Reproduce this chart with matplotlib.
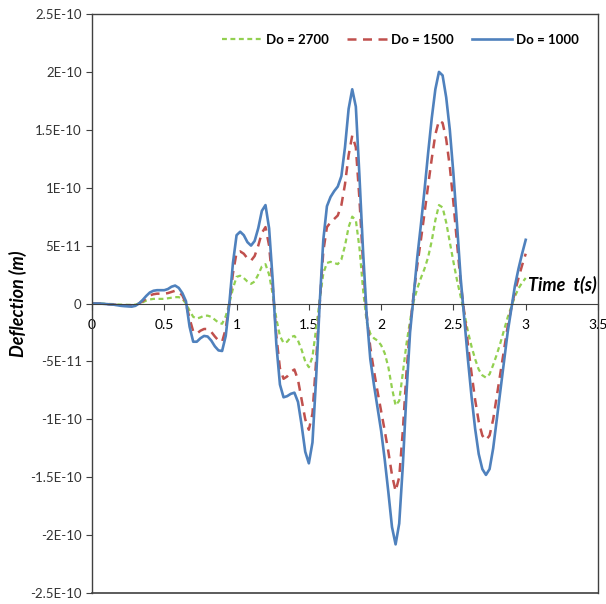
import numpy as np
import matplotlib
matplotlib.use("Agg")
import matplotlib.pyplot as plt

# time axis, sampled every 0.025 s
t = np.round(np.arange(0, 3.0001, 0.025), 3)

# deflection values in units of 1e-11 m
# (four values per 0.1 s)
do_2700 = [0, 0, 0, -0.01,
           -0.03, -0.04, -0.05, -0.08,
           -0.1, -0.11, -0.12, -0.12,
           -0.1, 0.0, 0.1, 0.25,
           0.35, 0.4, 0.4, 0.4,
           0.4, 0.45, 0.5, 0.55,
           0.55, 0.4, 0.0, -0.6,
           -1.15, -1.3, -1.2, -1.05,
           -1.05, -1.15, -1.4, -1.65,
           -1.75, -1.1, 0, 1.3,
           2.3, 2.4, 2.2, 1.9,
           1.7, 1.9, 2.5, 3.2,
           3.4, 2.5, 0.8, -1.3,
           -2.8, -3.4, -3.3, -2.9,
           -2.8, -3.2, -4.0, -5.0,
           -5.5, -4.6, -2.2, 0.3,
           2.6, 3.5, 3.6, 3.5,
           3.4, 3.8, 5.0, 6.6,
           7.5, 7.2, 4.8, 1.2,
           -1.6, -2.6, -3.0, -3.2,
           -3.6, -4.3, -5.5, -7.3,
           -8.8, -8.4, -6.0, -3.5,
           -1.5, 0.2, 1.3, 2.2,
           3.0, 4.0, 5.4, 7.2,
           8.5, 8.3, 7.0, 5.3,
           3.6, 2.0, 0.6, -0.8,
           -2.4, -3.7, -4.8, -5.7,
           -6.2, -6.4, -6.1, -5.3,
           -4.4, -3.4, -2.3, -1.2,
           -0.3, 0.6, 1.3, 1.8,
           2.2]
do_1500 = [0, 0, 0, -0.02,
           -0.05, -0.07, -0.1, -0.12,
           -0.15, -0.18, -0.2, -0.2,
           -0.15, 0.0, 0.2, 0.45,
           0.7, 0.8, 0.85, 0.85,
           0.85, 0.9, 1.0, 1.1,
           1.0, 0.7, 0.0, -1.3,
           -2.4, -2.6, -2.35, -2.2,
           -2.2, -2.45, -2.85, -3.2,
           -3.3, -2.2, 0, 2.6,
           4.4, 4.5, 4.3, 3.9,
           3.7, 4.1, 5.0, 6.1,
           6.6, 5.0, 1.5, -2.8,
           -5.6, -6.5, -6.3, -5.9,
           -5.7, -6.6, -8.3, -10.0,
           -10.9, -9.5, -5.0, 0,
           4.5, 6.6, 7.0, 7.3,
           7.6, 8.5, 10.3, 12.8,
           14.5, 13.5, 9.0, 3.5,
           -1.0, -3.8, -5.8, -7.6,
           -9.3, -11.0, -12.8, -14.8,
           -16.2, -15.0, -11.0, -6.0,
           -2.0, 0.8, 3.3, 5.5,
           7.8, 10.2, 12.5, 14.6,
           15.8, 15.6, 14.2, 11.8,
           8.7, 5.2, 1.8, -0.8,
           -3.5, -6.0, -8.3, -10.2,
           -11.4, -11.8, -11.4, -10.0,
           -8.0, -6.0, -4.0, -2.0,
           -0.4, 1.0, 2.2, 3.3,
           4.3]
do_1000 = [0, 0, 0, -0.02,
           -0.05, -0.08, -0.1, -0.15,
           -0.2, -0.23, -0.25, -0.27,
           -0.2, 0.0, 0.3, 0.65,
           0.95, 1.1, 1.15, 1.15,
           1.15, 1.25, 1.45, 1.55,
           1.35, 0.9, 0.2, -2.0,
           -3.3, -3.3, -3.0, -2.8,
           -2.85, -3.2, -3.7, -4.05,
           -4.1, -2.8, 0, 3.5,
           5.9, 6.2, 5.9, 5.3,
           5.0, 5.4, 6.5, 8.0,
           8.5, 6.5, 2.0, -3.5,
           -7.0, -8.1, -8.0, -7.8,
           -7.7, -8.5, -10.5, -12.8,
           -13.8, -12.0, -6.5, 0,
           5.5, 8.4, 9.2, 9.7,
           10.1, 11.0, 13.5, 16.8,
           18.5, 17.0, 11.0, 4.5,
           -1.0, -4.8, -7.0, -9.0,
           -11.0, -13.5, -16.3, -19.3,
           -20.8, -19.0, -14.0, -7.8,
           -2.5, 0.7, 4.0, 6.8,
           9.8, 13.0, 16.0, 18.5,
           20.0, 19.7, 17.8, 15.0,
           11.2, 6.8, 2.2, -1.3,
           -4.8, -8.0, -10.8, -13.0,
           -14.3, -14.8, -14.3, -12.5,
           -10.0, -7.5, -5.0, -2.5,
           -0.5, 1.5, 3.0, 4.3,
           5.5]

series_labels = ["Do = 2700", "Do = 1500", "Do = 1000"]
y_ticks = [2.5e-10, 2e-10, 1.5e-10, 1e-10, 5e-11, 0, -5e-11, -1e-10,
           -1.5e-10, -2e-10, -2.5e-10]
y_tick_labels = ["2.5E-10", "2E-10", "1.5E-10", "1E-10", "5E-11", "0",
                 "-5E-11", "-1E-10", "-1.5E-10", "-2E-10", "-2.5E-10"]
x_ticks = [0, 0.5, 1, 1.5, 2, 2.5, 3, 3.5]
x_tick_labels = ["0", "0.5", "1", "1.5", "2", "2.5", "3", "3.5"]


def main():
    plt.rcParams["font.family"] = ["Lato", "DejaVu Sans"]
    fig = plt.figure(figsize=(6.06, 6.04), dpi=100)
    ax = fig.add_axes([0.1518, 0.0182, 0.835, 0.9586])

    scale = 1e-11
    ax.plot(t, np.array(do_2700) * scale, color="#92D050", lw=1.6,
            dashes=(2.2, 1.6), label=series_labels[0])
    ax.plot(t, np.array(do_1500) * scale, color="#C0504D", lw=1.8,
            dashes=(3.6, 2.6), label=series_labels[1])
    ax.plot(t, np.array(do_1000) * scale, color="#4F81BD", lw=1.9,
            label=series_labels[2])

    ax.set_xlim(0, 3.5)
    ax.set_ylim(-2.5e-10, 2.5e-10)
    ax.set_yticks(y_ticks)
    ax.set_yticklabels(y_tick_labels, fontsize=9.5, color="#333333")
    ax.set_xticks(x_ticks)
    ax.set_xticklabels(x_tick_labels, fontsize=9.5, color="#333333")

    # x axis crosses at zero, frame round the plot area
    ax.spines["bottom"].set_position(("data", 0))
    ax.spines["bottom"].set_color("#404040")
    for side in ["left", "right", "top"]:
        ax.spines[side].set_color("#404040")
        ax.spines[side].set_linewidth(1.0)
    ax.plot([0, 1], [0, 0], transform=ax.transAxes, color="#404040",
            lw=1.2, clip_on=False)
    ax.tick_params(axis="both", direction="out", length=4, width=0.8,
                   color="#404040")
    ax.tick_params(axis="x", pad=7)

    ax.set_ylabel("Deflection (m)", fontsize=13, fontweight="bold",
                  fontstyle="italic", labelpad=2)
    ax.text(0.862, 0.532, "Time  t(s)", transform=ax.transAxes,
            fontsize=13, fontweight="bold", fontstyle="italic",
            va="center", ha="left")

    ax.legend(loc="center right", bbox_to_anchor=(0.985, 0.955), ncol=3,
              frameon=False, prop={"weight": "bold", "size": 9.5},
              handlelength=3.0, handletextpad=0.3, columnspacing=1.4)

    fig.savefig("out.png", dpi=100)


if __name__ == "__main__":
    main()
